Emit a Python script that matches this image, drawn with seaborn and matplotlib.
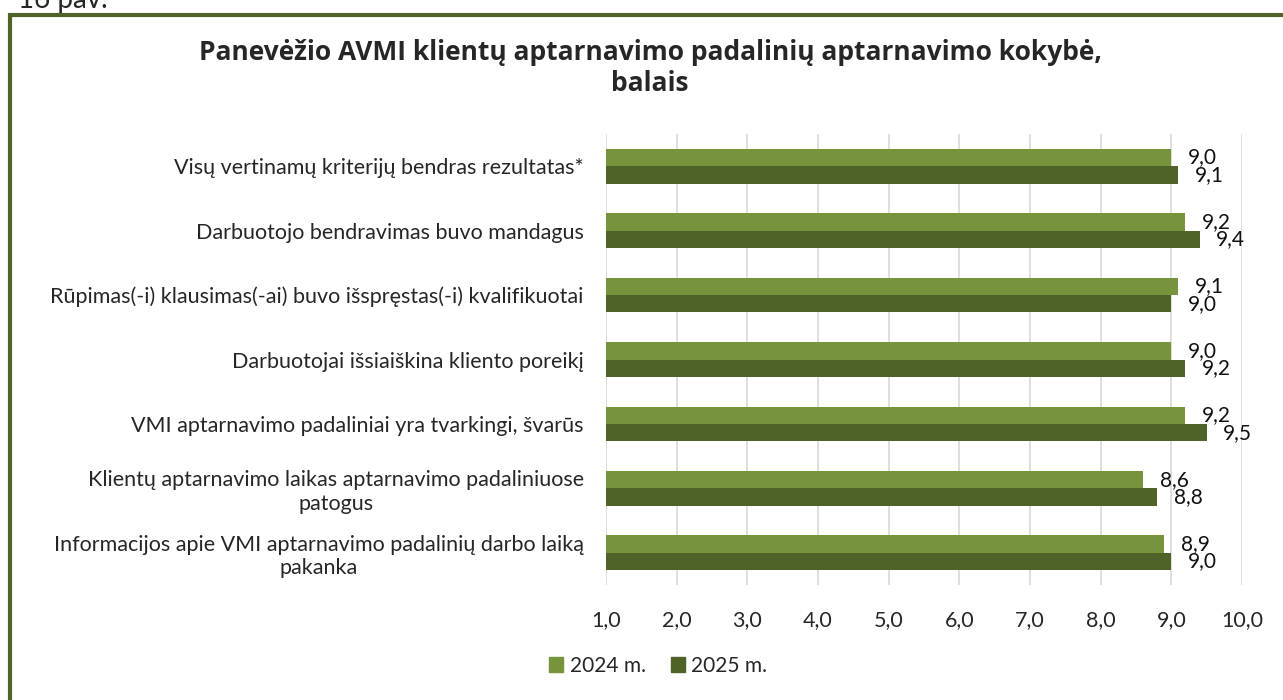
import pandas as pd
import matplotlib.pyplot as plt
import matplotlib.ticker as mticker
from matplotlib.patches import Rectangle
import seaborn as sns

# Duomenys
kriterijai = [
    'Visų vertinamų kriterijų bendras rezultatas*',
    'Darbuotojo bendravimas buvo mandagus',
    'Rūpimas(-i) klausimas(-ai) buvo išspręstas(-i) kvalifikuotai',
    'Darbuotojai išsiaiškina kliento poreikį',
    'VMI aptarnavimo padaliniai yra tvarkingi, švarūs',
    'Klientų aptarnavimo laikas aptarnavimo padaliniuose\npatogus',
    'Informacijos apie VMI aptarnavimo padalinių darbo laiką\npakanka',
]
metai = ['2024 m.', '2025 m.']
balai_2024 = [9.0, 9.2, 9.1, 9.0, 9.2, 8.6, 8.9]
balai_2025 = [9.1, 9.4, 9.0, 9.2, 9.5, 8.8, 9.0]
x_ticks = [1, 2, 3, 4, 5, 6, 7, 8, 9, 10]

df = pd.DataFrame({
    'Kriterijus': kriterijai * 2,
    'Metai': [metai[0]] * len(kriterijai) + [metai[1]] * len(kriterijai),
    'Balas': balai_2024 + balai_2025,
})

sns.set_theme(style='white')
plt.rcParams['font.family'] = ['Lato', 'DejaVu Sans']

fig = plt.figure(figsize=(12.83, 7.0), dpi=100)
ax = fig.add_axes([606 / 1283, 1 - 585 / 700, (1242 - 606) / 1283, (585 - 134) / 700])

spalvos = {'2024 m.': '#77933C', '2025 m.': '#4F6228'}
sns.barplot(data=df, y='Kriterijus', x='Balas', hue='Metai', palette=spalvos,
            orient='h', width=0.54, ax=ax, saturation=1, legend=False, linewidth=0)

for cont in ax.containers:
    ax.bar_label(cont, labels=[f'{v:.1f}'.replace('.', ',') for v in cont.datavalues],
                 padding=12, fontsize=15, color='#111111')

ax.set_xlim(1, 10)
ax.set_ylim(6.5, -0.5)
ax.set_xticks(x_ticks)
ax.xaxis.set_major_formatter(mticker.FuncFormatter(lambda v, p: f'{v:.1f}'.replace('.', ',')))
ax.tick_params(axis='x', length=0, pad=18, labelsize=15.5)
ax.tick_params(axis='y', length=0, pad=16, labelsize=15.5)
for lbl in ax.get_yticklabels():
    lbl.set_multialignment('center')
ax.grid(axis='x', color='#D9D9D9', linewidth=1.2)
ax.set_axisbelow(True)
for s in ax.spines.values():
    s.set_visible(False)
ax.set_xlabel('')
ax.set_ylabel('')

# Pavadinimas
fig.text(650 / 1283, 1 - 68 / 700,
         'Panevėžio AVMI klientų aptarnavimo padalinių aptarnavimo kokybė,\nbalais',
         ha='center', va='center', fontsize=19, fontweight='bold',
         family=['Open Sans', 'DejaVu Sans'], linespacing=1.2)

# Legenda
handles = [Rectangle((0, 0), 1, 1, color=spalvos[m]) for m in metai]
fig.legend(handles, metai, loc='center', bbox_to_anchor=(658 / 1283, 1 - 666 / 700),
           ncol=2, frameon=False, fontsize=15, handlelength=0.7, handleheight=0.7,
           handletextpad=0.3, columnspacing=1.2)

# Rėmelis ir paveikslo numeris
fig.patches.append(Rectangle((9.5 / 1283, -0.1), 1.2, 1 - 15 / 700 + 0.1,
                             transform=fig.transFigure, fill=False,
                             edgecolor='#4F6228', linewidth=3))
fig.text(18 / 1283, 1 - 8 / 700, '16 pav.', fontsize=20, va='baseline', ha='left')

fig.savefig('out.png', dpi=100)
